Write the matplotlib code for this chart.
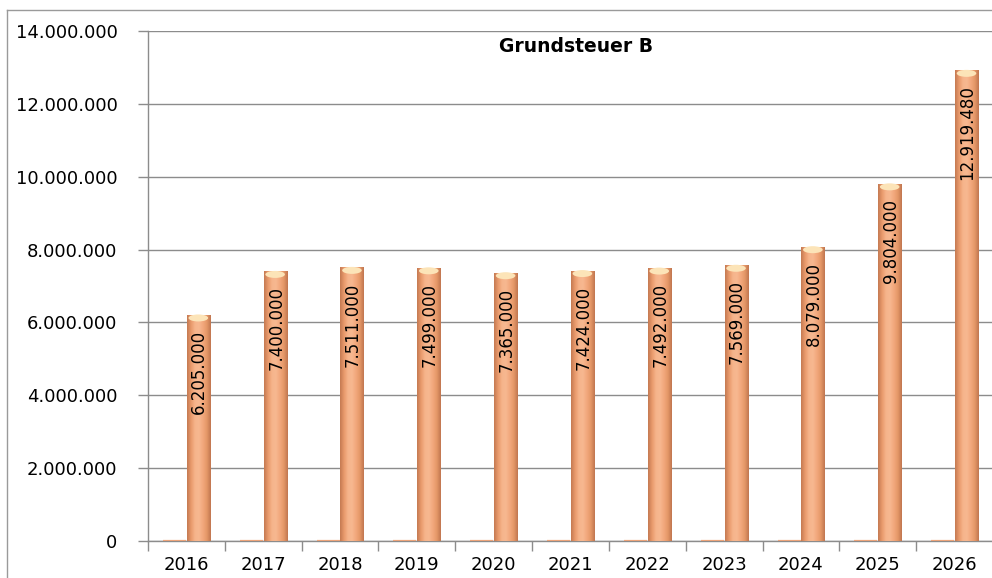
import matplotlib
matplotlib.use("Agg")
import matplotlib.pyplot as plt
import numpy as np
from matplotlib.colors import LinearSegmentedColormap
from matplotlib.patches import Ellipse, Rectangle
from matplotlib.ticker import FuncFormatter, FixedLocator

years = ["2016", "2017", "2018", "2019", "2020", "2021", "2022", "2023", "2024", "2025", "2026"]
values = [6205000, 7400000, 7511000, 7499000, 7365000, 7424000, 7492000, 7569000, 8079000, 9804000, 12919480]
zero_series = [0] * len(years)
title = "Grundsteuer B"

def de_fmt(v):
    return f"{int(round(v)):,}".replace(",", ".")

W, H = 992, 578
fig = plt.figure(figsize=(W / 100, H / 100), dpi=100)
ax = fig.add_axes([148 / W, 1 - 541 / H, (993 - 148) / W, (541 - 31) / H])

x = np.arange(len(years))
bw = 0.30
off = 0.155

cmap = LinearSegmentedColormap.from_list(
    "cyl", ["#C47A52", "#E99A6C", "#F6B48B", "#F7B891", "#F2A87C", "#E59868", "#C07650"])
grad = np.linspace(0, 1, 64).reshape(1, -1)

# zero series (flat bars)
ax.bar(x - off, zero_series, width=bw, color="#EFA67C", edgecolor="#EDA47A", linewidth=1.6, zorder=3)

# main series
bars = ax.bar(x + off, values, width=bw, color="none", edgecolor="none", zorder=3)
ymax = 14000000
px = ymax / 510.0
for b, v in zip(bars, values):
    x0 = b.get_x()
    x1 = x0 + b.get_width()
    im = ax.imshow(grad, cmap=cmap, aspect="auto", extent=(x0, x1, 0, v), zorder=3, interpolation="bicubic")
    clip = Rectangle((x0, 0), x1 - x0, v, transform=ax.transData, facecolor="none", edgecolor="none")
    ax.add_patch(clip)
    im.set_clip_path(clip)
    ax.add_patch(Ellipse(((x0 + x1) / 2, v - 3 * px), (x1 - x0) * 0.85, 7 * px,
                         facecolor="#FCE4B8", edgecolor="none", zorder=4))
    ax.annotate(de_fmt(v), xy=(b.get_x() + b.get_width() / 2, v), xytext=(1, -15),
                textcoords="offset pixels", ha="center", va="top", rotation=90,
                fontsize=12, color="black", zorder=5)

ax.set_xlim(-0.5, len(years) - 0.5)
ax.set_ylim(0, ymax)
ax.set_yticks(np.arange(0, ymax + 1, 2000000))
ax.yaxis.set_major_formatter(FuncFormatter(lambda v, p: de_fmt(v)))
ax.set_xticks(x)
ax.set_xticklabels(years)
ax.xaxis.set_minor_locator(FixedLocator(np.arange(-0.5, len(years), 1.0)))

ax.tick_params(axis="x", which="major", length=0, pad=11, labelsize=13)
ax.tick_params(axis="x", which="minor", length=7, color="#8C8C8C", width=1, direction="out")
ax.tick_params(axis="y", which="major", length=7, color="#8C8C8C", width=1, pad=15, labelsize=13)

ax.grid(axis="y", color="#8C8C8C", linewidth=1, zorder=0)
ax.set_axisbelow(True)
for s in ["top", "right"]:
    ax.spines[s].set_visible(False)
for s in ["left", "bottom"]:
    ax.spines[s].set_color("#8C8C8C")
    ax.spines[s].set_linewidth(1)

fig.text(576 / W, 1 - 46 / H, title, ha="center", va="center", fontsize=13.5, fontweight="bold")

# outer chart border
fig.add_artist(plt.Line2D([7 / W, 1.0], [1 - 10 / H, 1 - 10 / H], transform=fig.transFigure, color="#9A9A9A", linewidth=1))
fig.add_artist(plt.Line2D([7 / W, 7 / W], [1 - 10 / H, 0], transform=fig.transFigure, color="#9A9A9A", linewidth=1))

fig.savefig("out.png", dpi=100)
